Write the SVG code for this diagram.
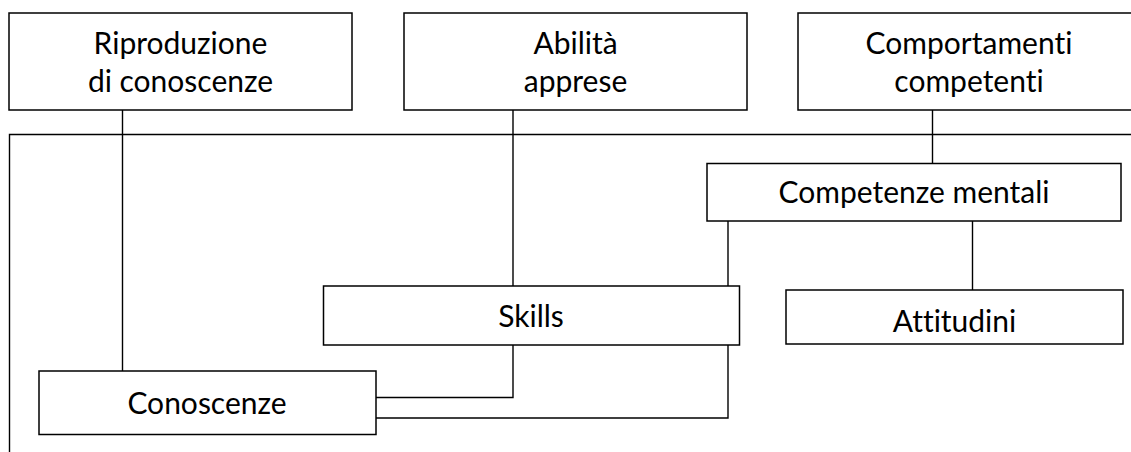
<svg xmlns="http://www.w3.org/2000/svg" width="1131" height="452" viewBox="0 0 1131 452">
<style>
.box{fill:#fff;stroke:#000;stroke-width:1.5}
.ln{fill:none;stroke:#000;stroke-width:1.4}
text{font-family:Lato,"Open Sans","Liberation Sans",sans-serif;font-size:30px;fill:#000;text-anchor:middle;font-variant-ligatures:none;font-feature-settings:"liga" 0,"clig" 0}
</style>
<rect width="1131" height="452" fill="#fff"/>
<g id="connectors">
<path class="ln" d="M9.5,452 V134.5 H1131"/>
<path class="ln" d="M122.5,110 V371"/>
<path class="ln" d="M513,110 V286 M513,345 V397.5 H375.5"/>
<path class="ln" d="M932.5,110 V163.5"/>
<path class="ln" d="M728,221 V286 M728,345 V418 H375.5"/>
<path class="ln" d="M972.5,221 V290"/>
</g>
<g id="n1"><rect class="box" x="9" y="13" width="343" height="97"/><text x="180.5" y="54">Riproduzione</text><text x="180.5" y="92">di conoscenze</text></g>
<g id="n2"><rect class="box" x="404" y="13" width="343" height="97"/><text x="575.5" y="54">Abilità</text><text x="575.5" y="92">apprese</text></g>
<g id="n3"><rect class="box" x="798" y="13" width="342" height="97"/><text x="969" y="54">Comportamenti</text><text x="969" y="92">competenti</text></g>
<g id="n4"><rect class="box" x="707" y="163.5" width="414" height="57.5"/><text x="914" y="203">Competenze mentali</text></g>
<g id="n5"><rect class="box" x="323.5" y="286" width="416" height="59"/><text x="531" y="327">Skills</text></g>
<g id="n6"><rect class="box" x="786" y="290" width="337" height="54"/><text x="954.5" y="332">Attitudini</text></g>
<g id="n7"><rect class="box" x="39" y="371" width="337" height="63.5"/><text x="207" y="413.5">Conoscenze</text></g>
</svg>
